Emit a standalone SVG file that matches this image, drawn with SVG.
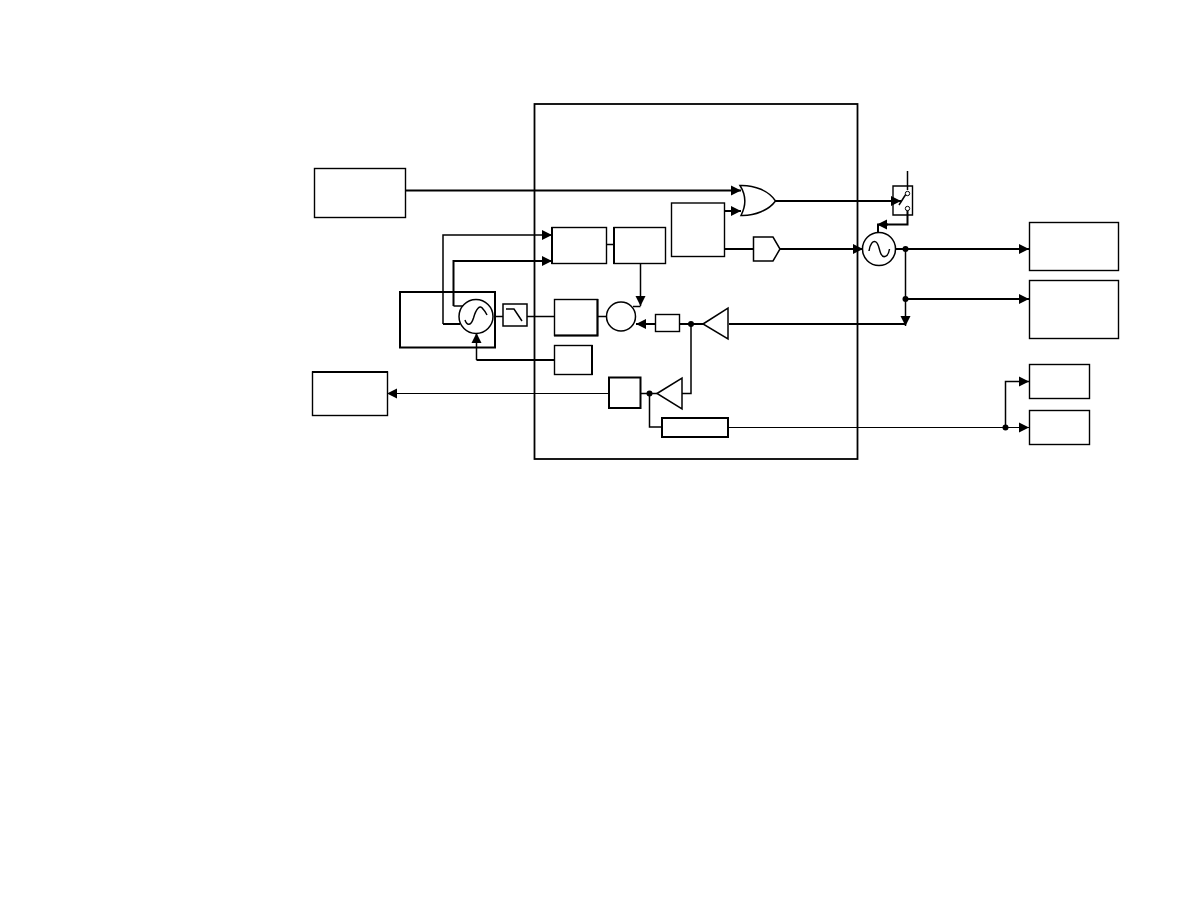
<svg xmlns="http://www.w3.org/2000/svg" width="1188" height="918" viewBox="0 0 1188 918">
<style>
.box{fill:#fff;stroke:#000;stroke-width:1.4}
.hv{fill:#fff;stroke:#000;stroke-width:2}
.shape{fill:#fff;stroke:#000;stroke-width:1.5;stroke-linejoin:miter}
.glyph{fill:none;stroke:#000;stroke-width:1.5}
.edge{fill:none;stroke:#000;stroke-width:2}
.w{fill:none;stroke:#000;stroke-width:1.5}
.fine{fill:none;stroke:#000;stroke-width:1.1}
.t{fill:none;stroke:#000;stroke-width:2}
.frame{fill:none;stroke:#000;stroke-width:1.8}
.dot{fill:#000;stroke:none}
</style>
<defs>
<marker id="a" markerUnits="userSpaceOnUse" markerWidth="11" markerHeight="11" refX="10" refY="5.500" orient="auto"><path d="M0 .5L10 5.500L0 10.500Z" fill="#000"/></marker>
</defs>
<rect width="1188" height="918" fill="#fff"/>
<g id="enclosure"><rect class="frame" x="534.500" y="104" width="323" height="355"/></g>
<g id="source-left"><rect class="box" x="314.500" y="168.500" width="91" height="49"/></g>
<g id="receiver-left"><rect class="box" x="312.500" y="372" width="75" height="43.500"/><path class="edge" d="M312 372H388"/></g>
<g id="out-1"><rect class="box" x="1029.500" y="222.500" width="89" height="48"/></g>
<g id="out-2"><rect class="box" x="1029.500" y="280.500" width="89" height="58"/></g>
<g id="out-3"><rect class="box" x="1029.500" y="364.500" width="60" height="34"/></g>
<g id="out-4"><rect class="box" x="1029.500" y="410.500" width="60" height="34"/></g>
<g id="osc-frame"><rect class="t" x="400" y="292" width="95" height="55.500"/></g>
<g id="box-a"><rect class="box" x="552" y="227.500" width="54.500" height="36"/><path class="edge" d="M552 227V264"/></g>
<g id="box-b"><rect class="box" x="614" y="227.500" width="51.500" height="36"/><path class="edge" d="M614 227V264"/></g>
<g id="box-c"><rect class="box" x="671.500" y="203" width="53" height="53.500"/></g>
<g id="box-d"><rect class="box" x="554.500" y="299.500" width="43" height="36"/><path class="edge" d="M554 335.500H597.500V299"/></g>
<g id="box-e"><rect class="box" x="554.500" y="345.500" width="37.500" height="29"/><path class="edge" d="M592 345V375"/></g>
<g id="box-f"><rect class="hv" x="609" y="377.500" width="31.500" height="30.500"/></g>
<g id="box-h"><rect class="hv" x="662" y="418" width="66" height="19"/></g>
<g id="connectors">
<path class="t" d="M406 190.500H741" marker-end="url(#a)"/>
<path class="t" d="M725 211H741" marker-end="url(#a)"/>
<path class="t" d="M775 201H901" marker-end="url(#a)"/>
<path class="t" d="M907.500 208V224.500H881"/>
<path class="t" d="M888 224.500H877" marker-end="url(#a)"/>
<path class="t" d="M878 224.500V232"/>
<path class="w" d="M907.500 171V190"/>
<path class="t" d="M725 249H754"/>
<path class="t" d="M780 249H863" marker-end="url(#a)"/>
<path class="t" d="M896 249H1029" marker-end="url(#a)"/>
<path class="w" d="M905.500 249V326" marker-end="url(#a)"/>
<path class="t" d="M905.500 299H1029" marker-end="url(#a)"/>
<path class="t" d="M905.500 324H729"/>
<path class="t" d="M703 324H680"/>
<path class="t" d="M655 324H636" marker-end="url(#a)"/>
<path class="w" d="M691 324V393.500H682"/>
<path class="w" d="M640.500 264V306" marker-end="url(#a)"/>
<path class="w" d="M640.500 306.500H633"/>
<path class="w" d="M607 244.500H614"/>
<path class="w" d="M597 316.500H606"/>
<path class="w" d="M494 316.500H503"/>
<path class="w" d="M527 316.500H554"/>
<path class="w" d="M443 324V235H552" marker-end="url(#a)"/>
<path class="t" d="M443 324H460"/>
<path class="t" d="M453.500 306V261H552" marker-end="url(#a)"/>
<path class="w" d="M453.500 306H463"/>
<path class="t" d="M554 360H476.500"/>
<path class="w" d="M476.500 360V333" marker-end="url(#a)"/>
<path class="fine" d="M609 393.500H387" marker-end="url(#a)"/>
<path class="w" d="M641 393.500H657"/>
<path class="w" d="M649.500 393.500V427H662"/>
<path class="fine" d="M729 427.500H1029" marker-end="url(#a)"/>
<path class="w" d="M1005.500 427.500V381.500H1029" marker-end="url(#a)"/>
<circle class="dot" cx="905.500" cy="249" r="3"/>
<circle class="dot" cx="905.500" cy="299" r="3"/>
<circle class="dot" cx="691" cy="324" r="3"/>
<circle class="dot" cx="649.500" cy="393.500" r="3"/>
<circle class="dot" cx="1005.500" cy="427.500" r="3"/>
</g>
<g id="box-g"><rect class="box" x="655.500" y="314.500" width="24" height="17"/></g>
<g id="osc-left"><circle class="shape" cx="476" cy="316.500" r="17"/><path class="glyph" d="M465 320C467 326 471 326 473.500 318C476 309 480 304 483 309C485 311 486 313 487 315"/></g>
<g id="lowpass"><rect class="shape" x="503" y="304" width="24" height="22"/><path class="glyph" d="M506 309H514L522 321"/></g>
<g id="mixer"><circle class="shape" cx="621" cy="316.500" r="14.500"/></g>
<g id="amp-1"><path class="shape" d="M703 324L728 308V339Z"/></g>
<g id="amp-2"><path class="shape" d="M657 393.500L682 378V409Z"/></g>
<g id="or-gate"><path class="shape" d="M740 185.500C755 185 769 191 775.500 201C769 210 755 216 741 215.500C746 206 746 195 740 185.500Z"/></g>
<g id="buffer"><path class="shape" d="M753.500 237H773L780 249L773 261H753.500Z"/></g>
<g id="osc-right"><circle class="shape" cx="879" cy="249" r="16.500"/><path class="glyph" d="M869 251C870 244 873 240 876 242C879 244 879 250 881 254C883 258 888 258 889.500 249"/></g>
<g id="switch"><path class="glyph" style="stroke-width:1.400" d="M893 186H912.500V215H893Z"/><path class="glyph" d="M899 205L906 194"/><circle class="shape" cx="907.500" cy="193.500" r="2.200" style="stroke-width:1"/><circle class="shape" cx="907.500" cy="208.500" r="2.200" style="stroke-width:1"/></g>
</svg>
